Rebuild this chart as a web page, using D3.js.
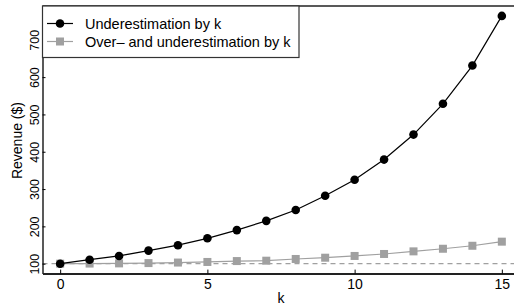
<!DOCTYPE html>
<html><head><meta charset="utf-8">
<script src="https://cdn.jsdelivr.net/npm/d3@7"></script>
<style>body{margin:0;background:#fff}svg{display:block}text{font-family:"Liberation Sans",Arial,sans-serif}</style>
</head><body>
<script>
const ks = [0,1,2,3,4,5,6,7,8,9,10,11,12,13,14,15];
const underEst = [100,110.7,120.7,135,149.5,168,190,214.8,244,282,325,379,446,528.5,631,764];
const overUnderEst = [100,100.3,100.8,101.6,103,104.6,107,108,112.6,116,120.7,126,133,140,148,159];
const xTicks = [0,5,10,15];
const yTicks = [100,200,300,400,500,600,700];
const seriesNames = ["Underestimation by k","Over\u2013 and underestimation by k"];

const W=514,H=305;
const svg=d3.select("body").append("svg").attr("width",W).attr("height",H);
const x=d3.scaleLinear().domain([-0.6,15.6]).range([42.5,519.5]);
const y=d3.scaleLinear().domain([73.4,790.6]).range([273.6,6]);

// baseline dashed
svg.append("line").attr("x1",42.5).attr("x2",W).attr("y1",y(100)).attr("y2",y(100))
  .attr("stroke","#a0a0a0").attr("stroke-width",1.2).attr("stroke-dasharray","5,4");

// axes
const xa=svg.append("g").attr("transform",`translate(0,${y(73.4)})`)
  .call(d3.axisBottom(x).tickValues(xTicks).tickSizeInner(-4).tickSizeOuter(0).tickPadding(0));
xa.select(".domain").attr("stroke","#222").attr("stroke-width",2);
xa.selectAll("text").attr("font-size",14).attr("fill","#000").attr("dy",0).attr("y",15);
const ya=svg.append("g").attr("transform",`translate(42.5,0)`)
  .call(d3.axisLeft(y).tickValues(yTicks).tickSizeInner(-3).tickSizeOuter(0).tickPadding(0));
ya.select(".domain").attr("stroke","#222").attr("stroke-width",1.5);
ya.selectAll("text").attr("font-size",12.5).attr("fill","#000")
  .attr("text-anchor","middle").attr("dy",0).attr("x",0).attr("y",0)
  .attr("transform","translate(-3.5,0) rotate(-90)");
// top border
svg.append("line").attr("x1",42.5).attr("x2",W).attr("y1",6).attr("y2",6).attr("stroke","#222").attr("stroke-width",1.5);

// labels
svg.append("text").attr("x",x(7.5)).attr("y",303).attr("text-anchor","middle").attr("font-size",14).text("k");
svg.append("text").attr("transform",`translate(22,${y(430)}) rotate(-90)`).attr("text-anchor","middle").attr("font-size",14).text("Revenue ($)");

const line=d3.line().x((d,i)=>x(ks[i])).y(d=>y(d));
// gray series
svg.append("path").attr("d",line(overUnderEst)).attr("fill","none").attr("stroke","#a0a0a0").attr("stroke-width",1.2);
svg.selectAll(".sq").data(overUnderEst).enter().append("rect")
  .attr("x",(d,i)=>x(ks[i])-4).attr("y",d=>y(d)-4).attr("width",8).attr("height",8).attr("fill","#a0a0a0");
// black series
svg.append("path").attr("d",line(underEst)).attr("fill","none").attr("stroke","#000").attr("stroke-width",1.2);
svg.selectAll(".dot").data(underEst).enter().append("circle")
  .attr("cx",(d,i)=>x(ks[i])).attr("cy",d=>y(d)).attr("r",4.3).attr("fill","#000");

// legend
const lg=svg.append("g");
lg.append("rect").attr("x",42.5).attr("y",6).attr("width",256.5).attr("height",51.5).attr("fill","#fff").attr("stroke","#333").attr("stroke-width",1.2);
const rows=[{y:23.5,c:"#000",m:"c"},{y:41.5,c:"#a0a0a0",m:"s"}];
rows.forEach((r,i)=>{
  lg.append("line").attr("x1",47).attr("x2",73).attr("y1",r.y).attr("y2",r.y).attr("stroke",r.c).attr("stroke-width",1.2);
  if(r.m==="c") lg.append("circle").attr("cx",60).attr("cy",r.y).attr("r",4.3).attr("fill",r.c);
  else lg.append("rect").attr("x",56).attr("y",r.y-4).attr("width",8).attr("height",8).attr("fill",r.c);
  lg.append("text").attr("x",85).attr("y",r.y+5).attr("font-size",14.5).text(seriesNames[i]);
});
</script>
</body></html>
